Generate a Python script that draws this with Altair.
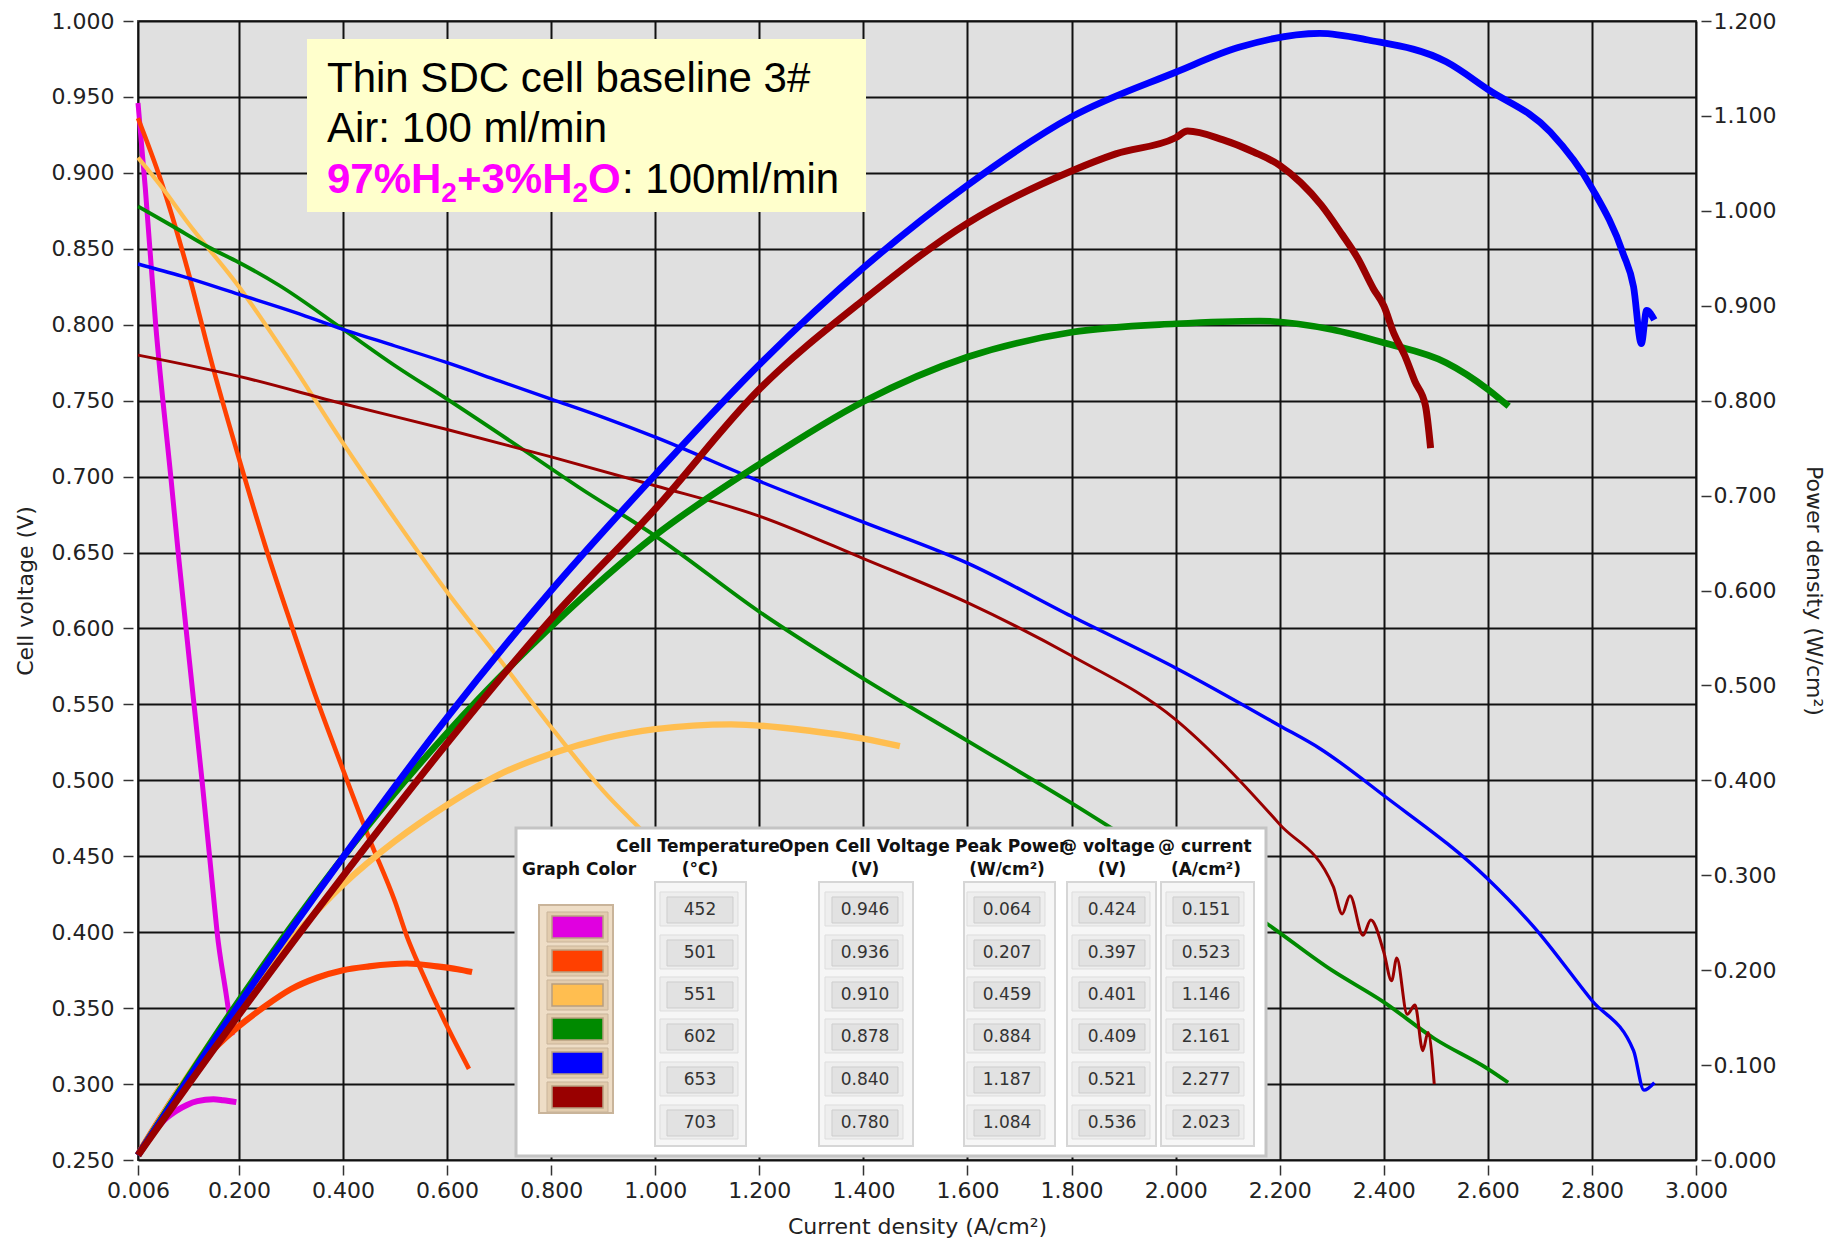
import altair as alt
import pandas as pd

# ------------------------------------------------------------------ data
temps = ["452", "501", "551", "602", "653", "703"]
colors = ["#E000E0", "#FF4000", "#FFBE50", "#008A00", "#0000FF", "#990000"]

ocv = ["0.946", "0.936", "0.910", "0.878", "0.840", "0.780"]
peak_power = ["0.064", "0.207", "0.459", "0.884", "1.187", "1.084"]
at_voltage = ["0.424", "0.397", "0.401", "0.409", "0.521", "0.536"]
at_current = ["0.151", "0.523", "1.146", "2.161", "2.277", "2.023"]

x_ticks = [0.006, 0.2, 0.4, 0.6, 0.8, 1.0, 1.2, 1.4, 1.6, 1.8, 2.0, 2.2, 2.4, 2.6, 2.8, 3.0]
v_ticks = [0.25, 0.30, 0.35, 0.40, 0.45, 0.50, 0.55, 0.60, 0.65, 0.70, 0.75, 0.80, 0.85, 0.90, 0.95, 1.00]
p_ticks = [0.0, 0.1, 0.2, 0.3, 0.4, 0.5, 0.6, 0.7, 0.8, 0.9, 1.0, 1.1, 1.2]

# 452 C
i_v_452 = [0.006, 0.020, 0.040, 0.069, 0.085, 0.105, 0.129, 0.151, 0.158, 0.175, 0.187]
v_452 = [0.946, 0.890, 0.800, 0.700, 0.644, 0.578, 0.500, 0.424, 0.400, 0.360, 0.332]
i_p_452 = [0.006, 0.020, 0.040, 0.060, 0.080, 0.100, 0.120, 0.151, 0.170, 0.195]
p_452 = [0.005, 0.018, 0.032, 0.044, 0.052, 0.058, 0.062, 0.064, 0.063, 0.061]

# 501 C
i_v_501 = [0.006, 0.050, 0.100, 0.150, 0.200, 0.250, 0.300, 0.350, 0.400, 0.450, 0.500, 0.523, 0.550, 0.600, 0.642]
v_501 = [0.936, 0.895, 0.838, 0.772, 0.712, 0.655, 0.603, 0.553, 0.507, 0.462, 0.420, 0.397, 0.375, 0.338, 0.310]
i_p_501 = [0.006, 0.050, 0.100, 0.150, 0.200, 0.250, 0.300, 0.350, 0.400, 0.450, 0.523, 0.580, 0.620, 0.648]
p_501 = [0.006, 0.045, 0.086, 0.116, 0.141, 0.162, 0.180, 0.192, 0.200, 0.204, 0.207, 0.204, 0.201, 0.198]

# 551 C
i_v_551 = [0.006, 0.053, 0.100, 0.200, 0.300, 0.400, 0.500, 0.600, 0.700, 0.800, 0.900, 1.000, 1.146, 1.300, 1.470]
v_551 = [0.910, 0.890, 0.868, 0.825, 0.775, 0.722, 0.672, 0.624, 0.580, 0.535, 0.493, 0.458, 0.401, 0.345, 0.297]
i_p_551 = [0.006, 0.100, 0.200, 0.300, 0.400, 0.500, 0.600, 0.700, 0.800, 0.900, 1.000, 1.146, 1.300, 1.400, 1.470]
p_551 = [0.005, 0.087, 0.165, 0.232, 0.290, 0.336, 0.374, 0.406, 0.428, 0.444, 0.454, 0.459, 0.452, 0.444, 0.436]

# 602 C
i_v_602 = [0.006, 0.072, 0.142, 0.200, 0.277, 0.400, 0.500, 0.600, 0.745, 0.853, 1.000, 1.200, 1.400, 1.600, 1.800, 2.000, 2.161, 2.300, 2.400, 2.497, 2.600, 2.639]
v_602 = [0.878, 0.865, 0.851, 0.841, 0.826, 0.797, 0.773, 0.751, 0.718, 0.693, 0.661, 0.611, 0.567, 0.526, 0.485, 0.442, 0.409, 0.375, 0.354, 0.330, 0.310, 0.301]
i_p_602 = [0.006, 0.200, 0.400, 0.600, 0.800, 1.000, 1.200, 1.400, 1.600, 1.800, 2.000, 2.161, 2.300, 2.400, 2.520, 2.600, 2.640]
p_602 = [0.005, 0.168, 0.319, 0.450, 0.562, 0.658, 0.733, 0.799, 0.846, 0.872, 0.881, 0.884, 0.875, 0.861, 0.840, 0.812, 0.794]

# 653 C
i_v_653 = [0.006, 0.090, 0.200, 0.309, 0.400, 0.500, 0.600, 0.700, 0.800, 0.900, 1.000, 1.200, 1.400, 1.600, 1.800, 2.000, 2.200, 2.277, 2.400, 2.600, 2.687, 2.800, 2.880, 2.900, 2.920]
v_653 = [0.840, 0.832, 0.820, 0.808, 0.797, 0.786, 0.775, 0.763, 0.751, 0.739, 0.726, 0.697, 0.670, 0.643, 0.608, 0.574, 0.536, 0.521, 0.490, 0.435, 0.404, 0.355, 0.322, 0.296, 0.301]
i_p_653 = [0.006, 0.200, 0.400, 0.600, 0.800, 1.000, 1.200, 1.400, 1.600, 1.800, 2.000, 2.120, 2.277, 2.370, 2.520, 2.600, 2.720, 2.800, 2.860, 2.880, 2.895, 2.905, 2.920]
p_653 = [0.005, 0.164, 0.319, 0.466, 0.600, 0.722, 0.838, 0.940, 1.027, 1.099, 1.146, 1.172, 1.187, 1.180, 1.157, 1.128, 1.083, 1.024, 0.955, 0.920, 0.860, 0.895, 0.885]

# 703 C
i_v_703 = [0.006, 0.200, 0.400, 0.600, 0.800, 1.000, 1.200, 1.400, 1.600, 1.800, 2.000, 2.100, 2.200, 2.303, 2.320, 2.335, 2.360, 2.375, 2.400, 2.415, 2.425, 2.445, 2.460, 2.475, 2.485, 2.497]
v_703 = [0.780, 0.766, 0.748, 0.731, 0.713, 0.694, 0.674, 0.646, 0.617, 0.582, 0.540, 0.508, 0.471, 0.430, 0.412, 0.424, 0.398, 0.408, 0.387, 0.368, 0.383, 0.346, 0.352, 0.322, 0.334, 0.300]
i_p_703 = [0.006, 0.200, 0.400, 0.600, 0.800, 1.000, 1.200, 1.400, 1.600, 1.800, 1.885, 2.000, 2.023, 2.090, 2.150, 2.200, 2.240, 2.280, 2.320, 2.350, 2.380, 2.400, 2.420, 2.440, 2.460, 2.480, 2.490]
p_703 = [0.005, 0.153, 0.299, 0.439, 0.570, 0.686, 0.812, 0.906, 0.987, 1.042, 1.060, 1.077, 1.084, 1.075, 1.062, 1.048, 1.030, 1.006, 0.975, 0.950, 0.918, 0.900, 0.870, 0.848, 0.820, 0.795, 0.750]

volt_i = [i_v_452, i_v_501, i_v_551, i_v_602, i_v_653, i_v_703]
volt_v = [v_452, v_501, v_551, v_602, v_653, v_703]
pow_i = [i_p_452, i_p_501, i_p_551, i_p_602, i_p_653, i_p_703]
pow_p = [p_452, p_501, p_551, p_602, p_653, p_703]

df_v = pd.DataFrame([{"T": t, "I": a, "V": b}
                     for t, xs, ys in zip(temps, volt_i, volt_v) for a, b in zip(xs, ys)])
df_p = pd.DataFrame([{"T": t, "I": a, "P": b}
                     for t, xs, ys in zip(temps, pow_i, pow_p) for a, b in zip(xs, ys)])

# ------------------------------------------------------------------ layout
TOP = 13
W, H = 1558, 1139
X_PX = (138, 138 + W)
Y_PX = (8 + TOP, 8 + TOP + H)
X_DOM = (0.006, 3.0)
V_DOM = (0.25, 1.0)
P_DOM = (0.0, 1.2)


def ax(px):
    return X_DOM[0] + (px - X_PX[0]) * (X_DOM[1] - X_DOM[0]) / (X_PX[1] - X_PX[0])


def av(py):
    return V_DOM[1] - (py - Y_PX[0]) * (V_DOM[1] - V_DOM[0]) / (Y_PX[1] - Y_PX[0])


def rect(l, t, r, b, fill, stroke="transparent", sw=0):
    return {"x0": ax(l), "x1": ax(r), "y0": av(t), "y1": av(b),
            "fill": fill, "stroke": stroke, "sw": sw}


rects = []
# annotation box
rects.append(rect(307, 39, 866, 212, "#FFFFCC"))
# legend table frame
rects.append(rect(516, 828, 1266, 1156, "#FFFFFF", "#C4C4C4", 3))
col_centers = [700, 865, 1007, 1112, 1206]
col_strips = [(655, 746), (819, 913), (964, 1055), (1067, 1156), (1161, 1254)]
row_centers = [910, 953, 995, 1037, 1080, 1123]
for (l, r) in col_strips:
    rects.append(rect(l, 882, r, 1146, "#F6F6F6", "#D6D6D6", 2))
for c in col_centers:
    for y in row_centers:
        rects.append(rect(c - 40, y - 18, c + 38, y + 16, "#EEEEEE", "#DDDDDD", 1))
        rects.append(rect(c - 33, y - 13, c + 33, y + 13, "#E2E2E2", "#CDCDCD", 1))
# colour swatch frame and swatches
rects.append(rect(539, 905, 613, 1113, "#EEDDC6", "#C9B49A", 2))
sw_centers = [927, 961, 995, 1029, 1063, 1097]
for y, col in zip(sw_centers, colors):
    rects.append(rect(547, y - 15, 608, y + 15, "#E2CCAE", "#C9B49A", 1))
    rects.append(rect(552, y - 11, 603, y + 11, col, "#B89E80", 1.5))
df_rect = pd.DataFrame(rects)

# text in the annotation box
FS = 42
box_lines = pd.DataFrame([
    {"x": ax(327), "y": av(92), "text": "Thin SDC cell baseline 3#"},
    {"x": ax(327), "y": av(142), "text": "Air: 100 ml/min"},
    {"x": ax(622), "y": av(193), "text": ": 100ml/min"},
])
# bold magenta formula, split so that the subscripts are real lowered digits
w_97H = 2.723 * FS
w_sub = 0.556 * 28
w_3H = 2.751 * FS
gas_main = pd.DataFrame([
    {"x": ax(327), "y": av(193), "text": "97%H"},
    {"x": ax(327 + w_97H + w_sub), "y": av(193), "text": "+3%H"},
    {"x": ax(327 + w_97H + w_sub + w_3H + w_sub), "y": av(193), "text": "O"},
])
gas_sub = pd.DataFrame([
    {"x": ax(327 + w_97H), "y": av(202), "text": "2"},
    {"x": ax(327 + w_97H + w_sub + w_3H), "y": av(202), "text": "2"},
])

hdr_left = pd.DataFrame([
    {"x": ax(616), "y": av(847), "text": "Cell Temperature"},
    {"x": ax(779), "y": av(847), "text": "Open Cell Voltage"},
    {"x": ax(955), "y": av(847), "text": "Peak Power"},
    {"x": ax(1060), "y": av(847), "text": "@ voltage"},
    {"x": ax(1158), "y": av(847), "text": "@ current"},
    {"x": ax(522), "y": av(870), "text": "Graph Color"},
])
hdr_center = pd.DataFrame([
    {"x": ax(c), "y": av(870), "text": t}
    for c, t in zip(col_centers, ["(°C)", "(V)", "(W/cm²)", "(V)", "(A/cm²)"])
])
cells = []
for ci, col in enumerate([temps, ocv, peak_power, at_voltage, at_current]):
    for ri, val in enumerate(col):
        cells.append({"x": ax(col_centers[ci]), "y": av(row_centers[ri]), "text": val})
df_cells = pd.DataFrame(cells)

# ------------------------------------------------------------------ scales / axes
x_scale = alt.Scale(domain=list(X_DOM), nice=False, zero=False)
v_scale = alt.Scale(domain=list(V_DOM), nice=False, zero=False)
p_scale = alt.Scale(domain=list(P_DOM), nice=False, zero=False)

common = dict(labelFont="DejaVu Sans", labelFontSize=22, labelColor="#222",
              titleFont="DejaVu Sans", titleFontSize=22, titleFontWeight="normal",
              titleColor="#222", tickColor="#333", tickWidth=1.5, tickSize=10,
              offset=5, domain=False, labelFlush=False, labelOverlap=False,
              format=".3f")
x_axis = alt.Axis(values=x_ticks, title="Current density (A/cm²)", grid=True,
                  gridColor="#111", gridWidth=2, labelPadding=5, titlePadding=15, **common)
v_axis = alt.Axis(values=v_ticks, orient="left", title="Cell voltage (V)", grid=True,
                  gridColor="#111", gridWidth=2, labelPadding=9, titlePadding=14, **common)
p_axis = alt.Axis(values=p_ticks, orient="right", title="Power density (W/cm²)",
                  grid=False, labelPadding=2, titlePadding=26, **common)


def X(f):
    return alt.X(f"{f}:Q", scale=x_scale, axis=x_axis)


def YV(f):
    return alt.Y(f"{f}:Q", scale=v_scale, axis=v_axis)


color_enc = alt.Color("T:N", scale=alt.Scale(domain=temps, range=colors), legend=None)

volt = alt.Chart(df_v).mark_line(strokeJoin="round", interpolate="monotone").encode(
    x=X("I"), y=YV("V"), color=color_enc,
    strokeWidth=alt.StrokeWidth("T:N", scale=alt.Scale(domain=temps, range=[5, 3, 4, 3.5, 3.5, 3.5]), legend=None),
)

rect_layer = alt.Chart(df_rect).mark_rect().encode(
    x=X("x0"), x2="x1", y=YV("y0"), y2="y1",
    fill=alt.Fill("fill:N", scale=None),
    stroke=alt.Stroke("stroke:N", scale=None),
    strokeWidth=alt.StrokeWidth("sw:Q", scale=None),
)

t_box = alt.Chart(box_lines).mark_text(font="Liberation Sans", fontSize=FS, align="left",
                                       baseline="alphabetic", color="#000000").encode(
    x=X("x"), y=YV("y"), text="text:N")
t_gas = alt.Chart(gas_main).mark_text(font="Liberation Sans", fontSize=FS, fontWeight="bold",
                                      align="left", baseline="alphabetic", color="#FF00FF").encode(
    x=X("x"), y=YV("y"), text="text:N")
t_gas_sub = alt.Chart(gas_sub).mark_text(font="Liberation Sans", fontSize=28, fontWeight="bold",
                                         align="left", baseline="alphabetic", color="#FF00FF").encode(
    x=X("x"), y=YV("y"), text="text:N")
t_hl = alt.Chart(hdr_left).mark_text(font="DejaVu Sans", fontSize=17, fontWeight="bold",
                                     align="left", baseline="middle", color="#111").encode(
    x=X("x"), y=YV("y"), text="text:N")
t_hc = alt.Chart(hdr_center).mark_text(font="DejaVu Sans", fontSize=17, fontWeight="bold",
                                       align="center", baseline="middle", color="#111").encode(
    x=X("x"), y=YV("y"), text="text:N")
t_cells = alt.Chart(df_cells).mark_text(font="DejaVu Sans", fontSize=17, align="center",
                                        baseline="middle", color="#333").encode(
    x=X("x"), y=YV("y"), text="text:N")

left_layer = alt.layer(volt, rect_layer, t_box, t_gas, t_gas_sub, t_hl, t_hc, t_cells)

power = alt.Chart(df_p).mark_line(strokeJoin="round", interpolate="monotone").encode(
    x=X("I"),
    y=alt.Y("P:Q", scale=p_scale, axis=p_axis),
    color=color_enc,
    strokeWidth=alt.StrokeWidth("T:N", scale=alt.Scale(domain=temps, range=[6, 7, 7, 8, 8, 8]), legend=None),
)

chart = alt.layer(left_layer, power).resolve_scale(
    y="independent", strokeWidth="independent"
).properties(
    width=W, height=H,
    autosize=alt.AutoSizeParams(type="none"),
    padding={"left": 130, "top": TOP, "right": 136, "bottom": 80},
    background="white",
).configure_view(fill="#E0E0E0", stroke="#555555", strokeWidth=2)

chart.save("out.html", embed_options={"renderer": "svg", "actions": False})
